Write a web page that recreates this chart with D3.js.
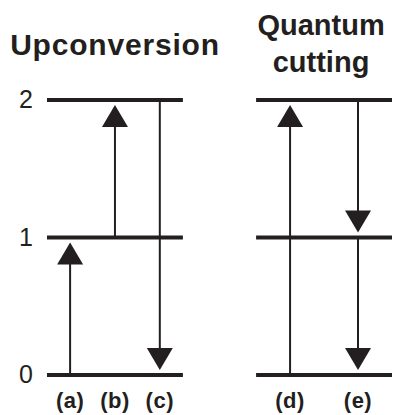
<!DOCTYPE html>
<html>
  <head>
    <meta charset="utf-8">
    <title>Upconversion and quantum cutting</title>
    <style>
      html, body { margin: 0; padding: 0; background: #fff; }
      svg { display: block; }
      text { font-family: "Liberation Sans", Arial, sans-serif; fill: #231f20; }
    </style>
    <script src="https://cdn.jsdelivr.net/npm/d3@7"></script>
  </head>
  <body>
    <div id="figure"></div>
    <script type="text/javascript">
    // energy levels and panels
    var levels = [0, 1, 2];
    var groups = ["Upconversion", "Quantum cutting"];
    var groupTitles = [["Upconversion"], ["Quantum", "cutting"]];

    // transitions: label, panel, place inside panel (0..1), from level, to level
    var labels = ["(a)", "(b)", "(c)", "(d)", "(e)", "(e)"];
    var panels = ["Upconversion", "Upconversion", "Upconversion", "Quantum cutting", "Quantum cutting", "Quantum cutting"];
    var places = [0.17, 0.5, 0.83, 0.25, 0.75, 0.75];
    var fromLevel = [0, 1, 2, 0, 2, 1];
    var toLevel = [1, 2, 0, 2, 1, 0];

    (function(){
        var W = 393;
        var H = 415;
        var INK = "#231f20";
        var HEAD_LEN = 22;
        var HEAD_W = 13;
        var GAP = 5;

        var svg = d3.select("#figure")
                    .append("svg")
                    .attr("width", W)
                    .attr("height", H);

        var x = d3.scaleBand()
                  .domain(groups)
                  .range([47, 392])
                  .paddingInner(0.35);

        var y = d3.scaleLinear()
                  .domain([0, 2])
                  .range([375, 100]);

        var inside = d3.scaleLinear().domain([0, 1]).range([0, x.bandwidth()]);

        // level numbers on the left
        var axis = svg.append("g")
                      .attr("transform", "translate(" + x(groups[0]) + ",0)")
                      .call(d3.axisLeft(y).tickValues(levels).tickFormat(d3.format("d")).tickSize(0).tickPadding(14));
        axis.select(".domain").remove();
        axis.selectAll("text")
            .attr("font-family", "Liberation Sans, Arial, sans-serif")
            .attr("font-size", 25)
            .attr("fill", INK)
            .attr("dy", "0.3em");

        // panel titles
        groups.forEach(function(g, gi){
            var lines = groupTitles[gi];
            var base = lines.length == 1 ? 55 : 35;
            lines.forEach(function(t, li){
                svg.append("text")
                   .attr("x", x(g) + x.bandwidth() / 2 - (lines.length == 1 ? 0 : 3))
                   .attr("y", base + li * 37)
                   .attr("text-anchor", "middle")
                   .attr("font-size", lines.length == 1 ? 30 : 29)
                   .attr("font-weight", "bold")
                   .style("letter-spacing", lines.length == 1 ? "0.8px" : "0px")
                   .text(t);
            });
        });

        // level bars
        groups.forEach(function(g){
            svg.selectAll(null)
               .data(levels)
               .enter()
               .append("line")
               .attr("x1", x(g))
               .attr("x2", x(g) + x.bandwidth())
               .attr("y1", function(d){ return y(d); })
               .attr("y2", function(d){ return y(d); })
               .attr("stroke", INK)
               .attr("stroke-width", 4);
        });

        var data = labels.map(function(l, i){
            return {
                label: l,
                cx: x(panels[i]) + inside(places[i]),
                from: fromLevel[i],
                to: toLevel[i]
            };
        });

        // shafts
        svg.selectAll("line.shaft")
           .data(data)
           .enter()
           .append("line")
           .attr("class", "shaft")
           .attr("x1", function(d){ return d.cx; })
           .attr("x2", function(d){ return d.cx; })
           .attr("y1", function(d){ return y(d.from); })
           .attr("y2", function(d){
                var dir = d.to > d.from ? 1 : -1;
                return y(d.to) + dir * (GAP + HEAD_LEN - 1);
           })
           .attr("stroke", INK)
           .attr("stroke-width", 2);

        // heads
        svg.selectAll("path.head")
           .data(data)
           .enter()
           .append("path")
           .attr("class", "head")
           .attr("d", function(d){
                var dir = d.to > d.from ? 1 : -1;
                var tip = y(d.to) + dir * GAP;
                var base = tip + dir * HEAD_LEN;
                return "M" + d.cx + "," + tip +
                       "L" + (d.cx - HEAD_W) + "," + base +
                       "L" + (d.cx + HEAD_W) + "," + base + "Z";
           })
           .attr("fill", INK);

        // transition labels
        var seen = {};
        svg.selectAll("text.lab")
           .data(data.filter(function(d){
                if(seen[d.label]){ return false; }
                seen[d.label] = true;
                return true;
           }))
           .enter()
           .append("text")
           .attr("class", "lab")
           .attr("x", function(d){ return d.cx; })
           .attr("y", 408)
           .attr("text-anchor", "middle")
           .attr("font-size", 22)
           .attr("font-weight", "bold")
           .style("letter-spacing", "0.5px")
           .text(function(d){ return d.label; });
    })();
    </script>
  </body>
</html>
